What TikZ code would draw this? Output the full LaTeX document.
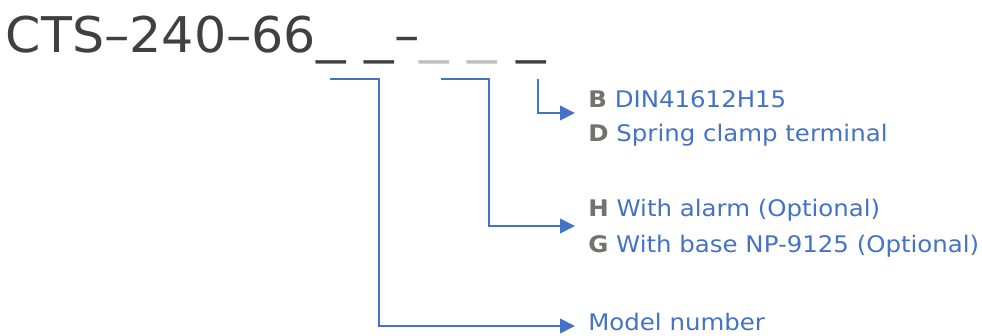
\documentclass[tikz,border=0pt]{standalone}
\usepackage{fontspec}
\setmainfont[FakeStretch=1.07]{DejaVu Sans}
\newfontfamily\titlefont[FakeStretch=1.03]{DejaVu Sans}
\newfontfamily\slotfont[FakeStretch=1.2]{DejaVu Sans}
\usetikzlibrary{arrows.meta}
\definecolor{codeblue}{HTML}{4472C4}
\definecolor{keygray}{HTML}{767171}
\definecolor{titlegray}{HTML}{404040}
\definecolor{slotgray}{HTML}{BFBFBF}
\newcommand{\optkey}[1]{\textbf{\color{keygray}#1}}

\begin{document}
\begin{tikzpicture}[x=0.2mm,y=-0.2mm,>={Triangle[length=3mm,width=2.9mm]},
    conn/.style={->,draw=codeblue,line width=0.4mm},
    lbl/.style={anchor=base west,inner sep=0pt,text=codeblue,font=\fontsize{13}{16}\selectfont}]
    \useasboundingbox (0,0) rectangle (982,335);
    \node[anchor=base west,inner sep=0pt,text=titlegray,font=\titlefont\fontsize{28}{32}\selectfont] (code) at (5.5,52.3)
        {CTS–240–66{\slotfont\_ \_}–{\slotfont\textcolor{slotgray}{\_ \_} \_}};
    \node[lbl] (optB) at (588,107) {\optkey{B} DIN41612H15};
    \node[lbl] (optD) at (588,141) {\optkey{D} Spring clamp terminal};
    \node[lbl] (optH) at (588,216) {\optkey{H} With alarm (Optional)};
    \node[lbl] (optG) at (588,252) {\optkey{G} With base NP-9125 (Optional)};
    \node[lbl] (mdl) at (588,330) {Model number};
    \coordinate (slotM) at (330,79);
    \coordinate (slotO) at (441,79);
    \coordinate (slotT) at (538,79);
    \coordinate (tipB) at ([shift={(-13,6)}]optB.base west);
    \coordinate (tipH) at ([shift={(-13,10)}]optH.base west);
    \coordinate (tipM) at ([shift={(-13,-4)}]mdl.base west);
    \draw[conn] (slotM)--++(49,0) |- (tipM);
    \draw[conn] (slotO)--++(48,0) |- (tipH);
    \draw[conn] (slotT) |- (tipB);
\end{tikzpicture}
\end{document}
